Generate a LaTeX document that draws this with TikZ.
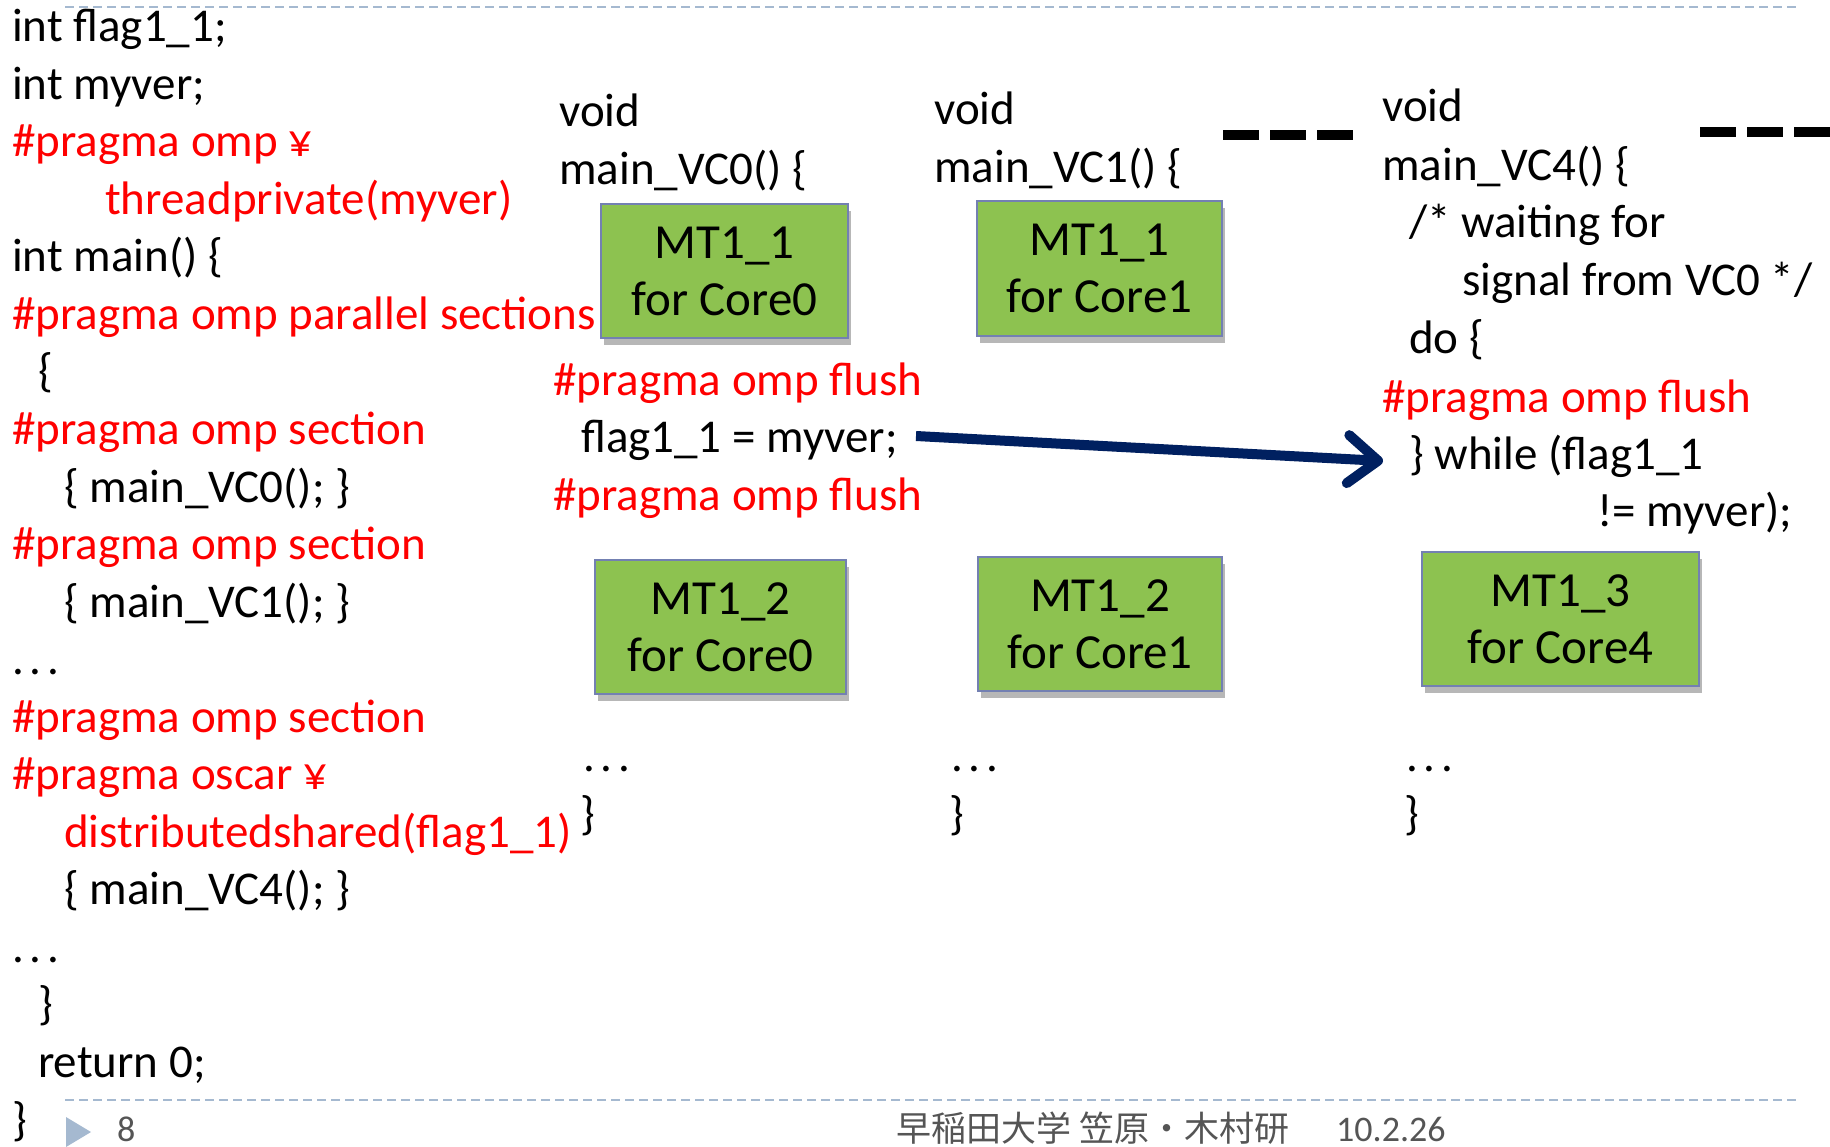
\documentclass[tikz,border=0pt]{standalone}
\usepackage{fontspec}
\setmainfont{Carlito}
\newfontfamily\jpfont{Noto Sans CJK JP}
\usetikzlibrary{arrows.meta,shadows}
\definecolor{codered}{RGB}{255,0,0}
\definecolor{boxgreen}{RGB}{141,194,80}
\definecolor{boxedge}{RGB}{115,128,178}
\definecolor{navyarrow}{RGB}{0,32,96}
\definecolor{rulecol}{RGB}{165,185,208}
\definecolor{footgray}{RGB}{85,85,85}
\newcommand{\dotsrow}{.\hspace{0.12em}.\hspace{0.12em}.}
\begin{document}
\begin{tikzpicture}[x=1pt,y=-1pt,
  code/.style={anchor=base west, inner sep=0pt, font=\fontsize{47}{56}\selectfont, text=black, yshift=-2pt},
  redcode/.style={code, text=codered},
  mtbox/.style={draw=boxedge, line width=1.3pt, fill=boxgreen, align=center,
    font=\fontsize{49}{57}\selectfont, inner sep=0pt,
    drop shadow={shadow xshift=3pt, shadow yshift=-7pt, opacity=0.4, fill=black!70}},
  thickdash/.style={line width=10pt, dash pattern=on 36pt off 11pt, black},
  ruleline/.style={line width=2pt, dash pattern=on 9pt off 5pt, rulecol},
  flow/.style={line width=10pt, navyarrow,
    -{Straight Barb[length=30pt, width=48pt, line width=10pt, round]}},
  foot/.style={anchor=base west, inner sep=0pt, text=footgray}
]
\useasboundingbox (0,0) rectangle (1830,1147);
\fill[white] (0,0) rectangle (1830,1147);

% header / footer rules
\coordinate (rt1) at (65,7);
\coordinate (rt2) at (1797,7);
\draw[ruleline] (rt1) -- (rt2);
\coordinate (rb1) at (65,1100);
\coordinate (rb2) at (1797,1100);
\draw[ruleline] (rb1) -- (rb2);

% left column
\node[code]    (l1)  at (12, 39.7)   {int flag1\_1;};
\node[code]    (l2)  at (12, 97.2)   {int myver;};
\node[redcode] (l3)  at (12, 154.8)  {\#pragma omp ¥};
\node[redcode] (l4)  at (105, 212.3) {threadprivate(myver)};
\node[code]    (l5)  at (12, 269.9)  {int main() \{};
\node[redcode] (l6)  at (12, 327.4)  {\#pragma omp parallel sections};
\node[code]    (l7)  at (38, 384.9)  {\{};
\node[redcode] (l8)  at (12, 442.5)  {\#pragma omp section};
\node[code]    (l9)  at (64, 500.0)  {\{ main\_VC0(); \}};
\node[redcode] (l10) at (12, 557.6)  {\#pragma omp section};
\node[code]    (l11) at (64, 615.1)  {\{ main\_VC1(); \}};
\node[code]    (l12) at (12, 672.6)  {\dotsrow};
\node[redcode] (l13) at (12, 730.2)  {\#pragma omp section};
\node[redcode] (l14) at (12, 787.7)  {\#pragma oscar ¥};
\node[redcode] (l15) at (64, 845.3)  {distributedshared(flag1\_1)};
\node[code]    (l16) at (64, 902.8)  {\{ main\_VC4(); \}};
\node[code]    (l17) at (12, 960.3)  {\dotsrow};
\node[code]    (l18) at (38, 1017.9) {\}};
\node[code]    (l19) at (38, 1075.4) {return 0;};
\node[code]    (l20) at (12, 1133)   {\}};

% VC0 column
\node[code]    (a1) at (559, 125) {void};
\node[code]    (a2) at (559, 183) {main\_VC0() \{};
\node[mtbox, minimum width=247pt, minimum height=134pt] (b1) at (724.5, 271) {MT1\_1\\for Core0};
\node[redcode] (a3) at (553, 393) {\#pragma omp flush};
\node[code]    (a4) at (581, 450) {flag1\_1 = myver;};
\node[redcode] (a5) at (553, 508) {\#pragma omp flush};
\node[mtbox, minimum width=251pt, minimum height=134pt] (b2) at (720.5, 627) {MT1\_2\\for Core0};
\node[code]    (a6) at (583, 769) {\dotsrow};
\node[code]    (a7) at (580, 827) {\}};

% VC1 column
\node[code]    (c1) at (934, 122.5) {void};
\node[code]    (c2) at (934, 181) {main\_VC1() \{};
\node[mtbox, minimum width=245pt, minimum height=135pt] (b3) at (1099.5, 268.5) {MT1\_1\\for Core1};
\node[mtbox, minimum width=244pt, minimum height=134pt] (b4) at (1100, 624) {MT1\_2\\for Core1};
\node[code]    (c3) at (951, 769) {\dotsrow};
\node[code]    (c4) at (949, 827) {\}};

% dashes between columns
\coordinate (d1) at (1223,135);
\coordinate (d2) at (1355,135);
\draw[thickdash] (d1) -- (d2);
\coordinate (d3) at (1700,132);
\coordinate (d4) at (1840,132);
\draw[thickdash] (d3) -- (d4);

% VC4 column
\node[code]    (e1) at (1382, 120) {void};
\node[code]    (e2) at (1382, 178.6) {main\_VC4() \{};
\node[code]    (e3) at (1409, 236) {/* waiting for};
\node[code]    (e4) at (1462, 294) {signal from VC0 */};
\node[code]    (e5) at (1409, 351) {do \{};
\node[redcode] (e6) at (1382, 410) {\#pragma omp flush};
\node[code]    (e7) at (1409, 467) {\} while (flag1\_1};
\node[code]    (e8) at (1597, 524) {!= myver);};
\node[mtbox, minimum width=277pt, minimum height=134pt] (b5) at (1560.5, 619) {MT1\_3\\for Core4};
\node[code]    (e9) at (1406, 769) {\dotsrow};
\node[code]    (e10) at (1404, 827) {\}};

% arrow from flag assignment to waiting loop
\coordinate (as) at (916,436);
\coordinate (ae) at (1383,461);
\draw[flow] (as) -- (ae);

% footer
\fill[rulecol] (66,1117) -- (91,1132) -- (66,1147) -- cycle;
\node[foot, font=\fontsize{36}{40}\selectfont] (pg) at (117,1141) {8};
\node[foot, font=\jpfont\fontsize{35}{40}\selectfont] (inst) at (896,1141) {早稲田大学 笠原・木村研};
\node[foot, font=\fontsize{36}{40}\selectfont] (dt) at (1336,1141) {10.2.26};
\end{tikzpicture}
\end{document}
